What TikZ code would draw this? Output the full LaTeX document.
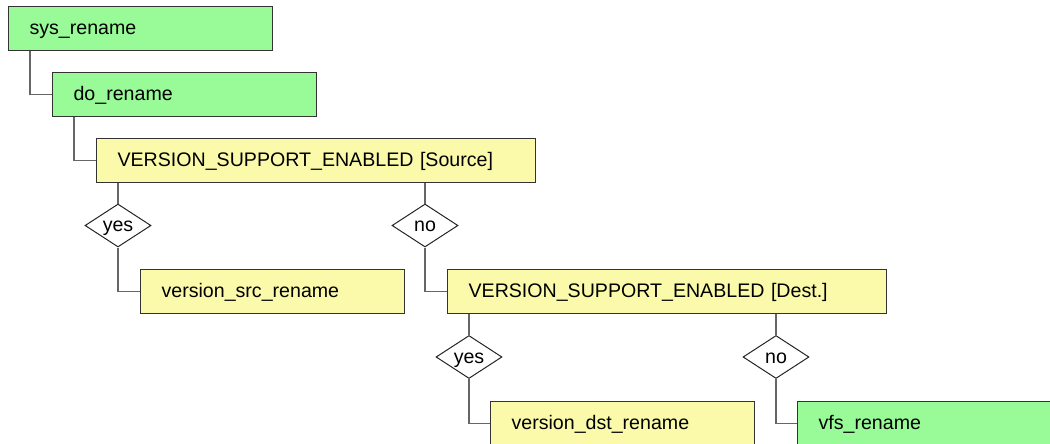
\documentclass[tikz,border=0pt]{standalone}
\usepackage{fontspec}
\setmainfont{Liberation Sans}
\usetikzlibrary{shapes.geometric}
\definecolor{fngreen}{RGB}{152,251,152}
\definecolor{fnyellow}{RGB}{250,250,170}
\tikzset{
  fnbox/.style={rectangle, draw=black!80, line width=0.9pt, anchor=north west,
    minimum height=33pt, inner xsep=15.75pt, inner ysep=0pt,
    text height=10.5pt, text depth=1.05pt,
    text width=#1, align=left, font=\fontsize{14.7}{17}\selectfont},
  fnbox/.default=166.5pt,
  greenfn/.style={fnbox, fill=fngreen},
  yellowfn/.style={fnbox, fill=fnyellow},
  condfn/.style={fnbox=297.75pt, fill=fnyellow},
  choice/.style={diamond, draw=black!85, line width=0.75pt, fill=white,
    minimum width=49.5pt, minimum height=32.25pt, inner sep=0pt, shape aspect=1.5,
    text height=10.5pt, text depth=1.05pt,
    font=\fontsize{14.7}{17}\selectfont},
  link/.style={draw=black!60, line width=0.9pt},
}
\begin{document}
\begin{tikzpicture}[x=0.75pt, y=-0.75pt]
  \useasboundingbox (0,0) rectangle (1050,443);
  \clip (0,0) rectangle (1050,443);

  % call chain
  \node[greenfn] (sys) at (8,6) {sys\_rename};
  \node[greenfn] (do) at (52,72) {do\_rename};
  \node[condfn] (vses) at (96,138) {VERSION\_SUPPORT\_ENABLED [Source]};

  % source decision
  \node[choice] (yes1) at (118,225.5) {yes};
  \node[choice] (no1) at (425,225.5) {no};
  \node[yellowfn] (vsrc) at (140,269) {version\_src\_rename};
  \node[condfn] (vsed) at (447,269) {VERSION\_SUPPORT\_ENABLED [Dest.]};

  % destination decision
  \node[choice] (yes2) at (469,357) {yes};
  \node[choice] (no2) at (776,357) {no};
  \node[yellowfn] (vdst) at (490,401) {version\_dst\_rename};
  \node[greenfn] (vfs) at (797,401) {vfs\_rename};

  % connectors
  \draw[link] ([xshift=16.5pt]sys.south west) |- (do.west);
  \draw[link] ([xshift=16.5pt]do.south west) |- (vses.west);
  \draw[link] (vses.south -| yes1.north) -- (yes1.north);
  \draw[link] (vses.south -| no1.north) -- (no1.north);
  \draw[link] (yes1.south) |- (vsrc.west);
  \draw[link] (no1.south) |- (vsed.west);
  \draw[link] (vsed.south -| yes2.north) -- (yes2.north);
  \draw[link] (vsed.south -| no2.north) -- (no2.north);
  \draw[link] (yes2.south) |- (vdst.west);
  \draw[link] (no2.south) |- (vfs.west);
\end{tikzpicture}
\end{document}
